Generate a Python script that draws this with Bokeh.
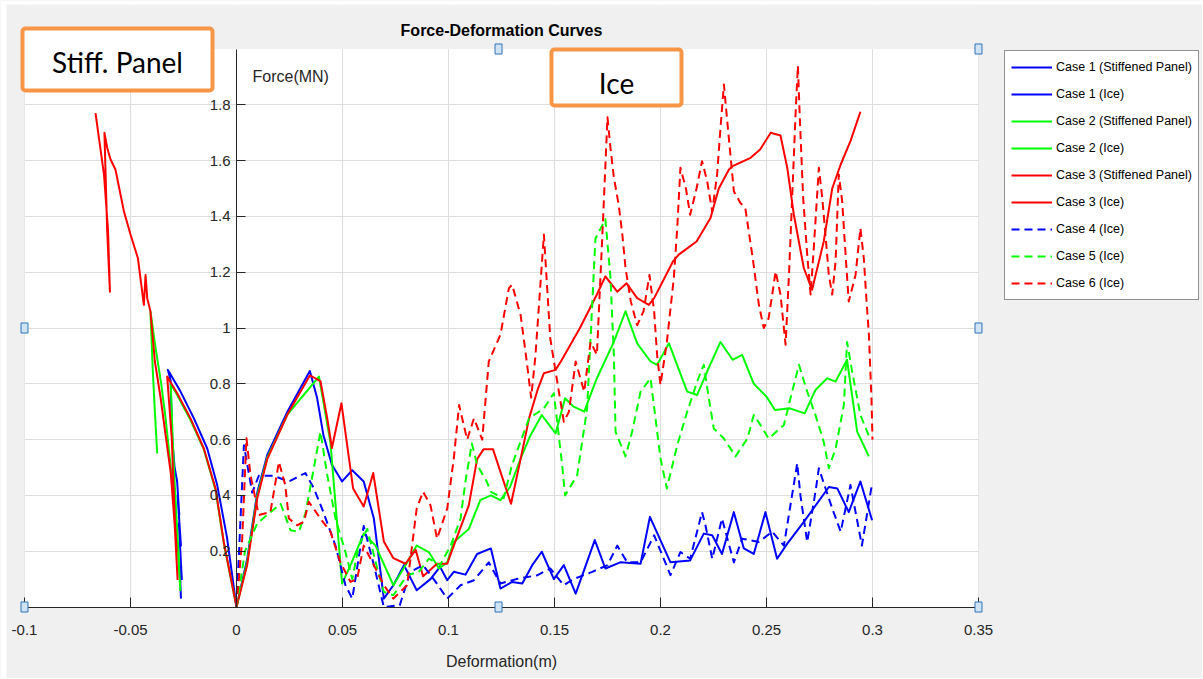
from bokeh.plotting import figure
from bokeh.models import Range1d, FixedTicker, Legend, LegendItem, Label, BoxAnnotation
from bokeh.embed import file_html
from bokeh.resources import INLINE

FONT = "Liberation Sans"
AXC = "#262626"
BG = "#f0f0f0"

x_ticks = [-0.1, -0.05, 0, 0.05, 0.1, 0.15, 0.2, 0.25, 0.3, 0.35]
x_tick_labels = ["-0.1", "-0.05", "0", "0.05", "0.1", "0.15", "0.2", "0.25", "0.3", "0.35"]
y_ticks = [0.2, 0.4, 0.6, 0.8, 1, 1.2, 1.4, 1.6, 1.8]
y_tick_labels = ["0.2", "0.4", "0.6", "0.8", "1", "1.2", "1.4", "1.6", "1.8"]

series_names = ["Case 1 (Stiffened Panel)", "Case 1 (Ice)", "Case 2 (Stiffened Panel)",
                "Case 2 (Ice)", "Case 3 (Stiffened Panel)", "Case 3 (Ice)",
                "Case 4 (Ice)", "Case 5 (Ice)", "Case 6 (Ice)"]
series_colors = ["#0000ff", "#0000ff", "#00ff00", "#00ff00", "#ff0000", "#ff0000",
                 "#0000ff", "#00ff00", "#ff0000"]
series_dashed = [False, False, False, False, False, False, True, True, True]

# Case 1 (Stiffened Panel)
c1_sp_d = [0, -0.0045, -0.0091, -0.0138, -0.0201, -0.0264, -0.0324, -0.0311, -0.0303, -0.0292,
           -0.0280, -0.0270, -0.0278, -0.0262, -0.0272, -0.0258, -0.0268, -0.0262]
c1_sp_f = [0, 0.25, 0.437, 0.568, 0.676, 0.772, 0.85, 0.814, 0.60, 0.50,
           0.45, 0.33, 0.40, 0.22, 0.30, 0.10, 0.15, 0.03]

# Case 2 (Stiffened Panel)
c2_sp_d = [0, -0.006, -0.0099, -0.0154, -0.0217, -0.028, -0.031, -0.0302, -0.0292, -0.0283,
           -0.0270, -0.0278, -0.0265, -0.0285, -0.031, -0.0335, -0.0355, -0.038, -0.0406,
           -0.0395, -0.0385, -0.0374]
c2_sp_f = [0, 0.23, 0.42, 0.565, 0.67, 0.76, 0.80, 0.62, 0.45, 0.32,
           0.15, 0.24, 0.06, 0.30, 0.50, 0.68, 0.80, 0.92, 1.06,
           0.85, 0.70, 0.55]

# Case 3 (Stiffened Panel)
c3_sp_d = [0, -0.006, -0.0099, -0.0154, -0.0217, -0.028, -0.0327, -0.0305, -0.0298, -0.0290,
           -0.0282, -0.0288, -0.0278, -0.0292, -0.0310, -0.0335, -0.0358, -0.0385, -0.0406,
           -0.0421, -0.0429, -0.0437, -0.0465, -0.0500, -0.0531, -0.0571, -0.0594, -0.0610,
           -0.0623, -0.0610, -0.0597, -0.0606, -0.0625, -0.0665]
c3_sp_f = [0, 0.233, 0.425, 0.568, 0.676, 0.766, 0.826, 0.60, 0.45, 0.30,
           0.20, 0.25, 0.10, 0.30, 0.48, 0.62, 0.75, 0.88, 1.06,
           1.107, 1.19, 1.083, 1.25, 1.335, 1.418, 1.568, 1.604, 1.646,
           1.70, 1.35, 1.13, 1.35, 1.55, 1.77]

# Case 1 (Ice)
c1_ice_d = [0, 0.005, 0.0098, 0.0145, 0.024, 0.0346, 0.038, 0.041, 0.045, 0.0498, 0.0546, 0.060,
            0.0648, 0.0695, 0.074, 0.079, 0.085, 0.0915, 0.096, 0.0994, 0.1025, 0.108, 0.1135,
            0.120, 0.1245, 0.130, 0.1348, 0.1395, 0.144, 0.1497, 0.1544, 0.160, 0.169, 0.174,
            0.181, 0.1906, 0.195, 0.2047, 0.214, 0.2204, 0.2244, 0.229, 0.2346, 0.2393, 0.244,
            0.2495, 0.255, 0.2598, 0.2676, 0.2794, 0.2834, 0.2888, 0.2943, 0.2998]
c1_ice_f = [0, 0.17, 0.41, 0.545, 0.70, 0.846, 0.75, 0.616, 0.51, 0.45, 0.49, 0.45,
            0.317, 0.03, 0.078, 0.15, 0.06, 0.10, 0.144, 0.096, 0.126, 0.116, 0.19,
            0.21, 0.066, 0.09, 0.084, 0.15, 0.198, 0.10, 0.15, 0.048, 0.24, 0.138,
            0.16, 0.155, 0.323, 0.16, 0.167, 0.263, 0.257, 0.19, 0.34, 0.21, 0.19,
            0.34, 0.173, 0.227, 0.305, 0.43, 0.425, 0.34, 0.45, 0.311]

# Case 2 (Ice)
c2_ice_d = [0, 0.005, 0.0098, 0.0145, 0.024, 0.0389, 0.0443, 0.0498, 0.0538, 0.060, 0.0656, 0.074,
            0.0797, 0.085, 0.0907, 0.0955, 0.0994, 0.1025, 0.1096, 0.115, 0.120, 0.1245, 0.129,
            0.134, 0.1387, 0.144, 0.1505, 0.155, 0.159, 0.164, 0.170, 0.178, 0.1835, 0.189,
            0.1953, 0.1984, 0.204, 0.2126, 0.2173, 0.222, 0.2283, 0.234, 0.2385, 0.244, 0.250,
            0.254, 0.261, 0.268, 0.2731, 0.2786, 0.2826, 0.288, 0.2928, 0.2983]
c2_ice_f = [0, 0.16, 0.40, 0.535, 0.69, 0.826, 0.59, 0.084, 0.15, 0.263, 0.22, 0.078,
            0.15, 0.22, 0.197, 0.138, 0.16, 0.233, 0.28, 0.383, 0.40, 0.383, 0.43,
            0.532, 0.616, 0.688, 0.622, 0.748, 0.718, 0.70, 0.82, 0.95, 1.06, 0.945,
            0.88, 0.868, 0.945, 0.772, 0.76, 0.844, 0.95, 0.886, 0.904, 0.80, 0.754,
            0.706, 0.712, 0.694, 0.778, 0.82, 0.808, 0.886, 0.628, 0.54]

# Case 3 (Ice)
c3_ice_d = [0, 0.005, 0.0098, 0.0145, 0.024, 0.0346, 0.0396, 0.0428, 0.045, 0.0495, 0.055, 0.060,
            0.0645, 0.0695, 0.074, 0.0797, 0.0845, 0.088, 0.0946, 0.0994, 0.1025, 0.1096,
            0.1135, 0.1165, 0.121, 0.1295, 0.134, 0.138, 0.142, 0.145, 0.1505, 0.153, 0.1575,
            0.162, 0.166, 0.170, 0.174, 0.1796, 0.184, 0.189, 0.1945, 0.197, 0.206, 0.2086,
            0.217, 0.2236, 0.2275, 0.2323, 0.234, 0.2425, 0.247, 0.252, 0.2566, 0.2598, 0.2629,
            0.2676, 0.2715, 0.277, 0.281, 0.285, 0.2896, 0.2943]
c3_ice_f = [0, 0.15, 0.39, 0.53, 0.69, 0.83, 0.81, 0.676, 0.57, 0.73, 0.425, 0.36,
            0.48, 0.235, 0.175, 0.155, 0.205, 0.11, 0.155, 0.155, 0.22, 0.365,
            0.53, 0.565, 0.565, 0.37, 0.53, 0.676, 0.778, 0.838, 0.85, 0.88, 0.94,
            1.0, 1.06, 1.12, 1.185, 1.13, 1.16, 1.107, 1.083, 1.107, 1.24, 1.263,
            1.31, 1.394, 1.50, 1.568, 1.58, 1.61, 1.64, 1.70, 1.69, 1.574, 1.406,
            1.215, 1.137, 1.31, 1.50, 1.586, 1.67, 1.775]

# Case 4 (Ice)
c4_d = [0, 0.0035, 0.0074, 0.0105, 0.0176, 0.0247, 0.0325, 0.0365, 0.041, 0.0467, 0.0514, 0.0546,
        0.060, 0.0648, 0.0695, 0.077, 0.082, 0.088, 0.093, 0.0994, 0.1057, 0.112, 0.119, 0.1245,
        0.132, 0.142, 0.148, 0.1544, 0.159, 0.1678, 0.175, 0.1796, 0.1843, 0.1906, 0.197,
        0.2047, 0.2094, 0.214, 0.2196, 0.2212, 0.2244, 0.229, 0.2346, 0.2385, 0.2464, 0.2527,
        0.2582, 0.2645, 0.266, 0.2692, 0.2731, 0.2747, 0.281, 0.285, 0.2896, 0.295, 0.2998]
c4_f = [0, 0.58, 0.41, 0.47, 0.47, 0.45, 0.48, 0.425, 0.34, 0.22, 0.078, 0.03,
        0.29, 0.15, 0.0, 0.006, 0.126, 0.15, 0.10, 0.03, 0.078, 0.096, 0.16, 0.084,
        0.10, 0.114, 0.138, 0.078, 0.10, 0.126, 0.15, 0.22, 0.16, 0.16, 0.257,
        0.114, 0.197, 0.173, 0.34, 0.293, 0.173, 0.317, 0.16, 0.245, 0.233, 0.27,
        0.22, 0.515, 0.40, 0.233, 0.413, 0.497, 0.353, 0.27, 0.437, 0.22, 0.443]

# Case 5 (Ice)
c5_d = [0, 0.004, 0.0098, 0.016, 0.0208, 0.0255, 0.0294, 0.0325, 0.035, 0.0396, 0.0428, 0.0467,
        0.0514, 0.0546, 0.0577, 0.0617, 0.0664, 0.0695, 0.074, 0.0805, 0.086, 0.0907, 0.096,
        0.101, 0.1057, 0.108, 0.111, 0.1135, 0.118, 0.12, 0.126, 0.130, 0.138, 0.145, 0.1497,
        0.1536, 0.155, 0.1607, 0.1654, 0.1693, 0.174, 0.1764, 0.178, 0.1788, 0.1835, 0.1866,
        0.1906, 0.1953, 0.2, 0.203, 0.2079, 0.2126, 0.2173, 0.2204, 0.2228, 0.2251, 0.2299,
        0.2354, 0.241, 0.244, 0.2472, 0.251, 0.2582, 0.2613, 0.2653, 0.2692, 0.2731, 0.277,
        0.2794, 0.2826, 0.2865, 0.288, 0.2904, 0.2943, 0.299]
c5_f = [0, 0.2, 0.30, 0.34, 0.37, 0.275, 0.27, 0.335, 0.437, 0.628, 0.473, 0.317,
        0.197, 0.10, 0.22, 0.28, 0.138, 0.054, 0.042, 0.114, 0.126, 0.173, 0.15,
        0.22, 0.317, 0.45, 0.586, 0.51, 0.45, 0.413, 0.39, 0.51, 0.676, 0.712, 0.766,
        0.51, 0.40, 0.473, 0.712, 1.32, 1.39, 1.18, 0.904, 0.628, 0.54, 0.628,
        0.772, 0.82, 0.532, 0.425, 0.58, 0.70, 0.808, 0.868, 0.748, 0.64, 0.604,
        0.54, 0.604, 0.688, 0.652, 0.604, 0.652, 0.748, 0.868, 0.772, 0.688, 0.592,
        0.497, 0.568, 0.724, 0.95, 0.844, 0.688, 0.60]

# Case 6 (Ice)
c6_d = [0, 0.0027, 0.0047, 0.0066, 0.0105, 0.016, 0.020, 0.023, 0.0247, 0.0286, 0.0318, 0.0341,
        0.0396, 0.0443, 0.049, 0.0538, 0.0569, 0.060, 0.0648, 0.0695, 0.074, 0.0805, 0.085,
        0.088, 0.0915, 0.0946, 0.0994, 0.1025, 0.105, 0.1088, 0.112, 0.1159, 0.119, 0.1245,
        0.1285, 0.130, 0.134, 0.1363, 0.139, 0.141, 0.145, 0.148, 0.1505, 0.1544, 0.1568,
        0.160, 0.164, 0.167, 0.170, 0.1725, 0.175, 0.1764, 0.178, 0.1803, 0.182, 0.1835,
        0.186, 0.189, 0.192, 0.1948, 0.197, 0.1984, 0.200, 0.203, 0.2063, 0.2079, 0.2094,
        0.212, 0.214, 0.217, 0.2196, 0.222, 0.2244, 0.2267, 0.2283, 0.2299, 0.2315, 0.2346,
        0.2377, 0.240, 0.2437, 0.2464, 0.2487, 0.251, 0.2527, 0.2543, 0.2566, 0.259, 0.2606,
        0.2621, 0.2637, 0.2648, 0.2657, 0.2673, 0.2692, 0.2708, 0.2723, 0.2747, 0.2763,
        0.2778, 0.2794, 0.281, 0.2826, 0.2841, 0.2857, 0.2873, 0.2888, 0.292, 0.2943, 0.2959,
        0.2972, 0.2983, 0.2995, 0.300]
c6_f = [0, 0.245, 0.605, 0.473, 0.33, 0.34, 0.52, 0.437, 0.317, 0.293, 0.305, 0.377,
        0.317, 0.27, 0.16, 0.09, 0.10, 0.22, 0.15, 0.078, 0.03, 0.078, 0.353,
        0.413, 0.365, 0.245, 0.353, 0.532, 0.724, 0.60, 0.676, 0.60, 0.88, 0.976,
        1.143, 1.155, 1.047, 0.916, 0.75, 0.90, 1.335, 0.963, 0.844, 0.664, 0.70,
        0.88, 0.772, 0.95, 0.904, 1.32, 1.755, 1.645, 1.54, 1.44, 1.335, 1.215,
        1.095, 1.01, 1.06, 1.19, 1.06, 0.904, 0.796, 0.95, 1.18, 1.36, 1.574,
        1.50, 1.406, 1.50, 1.598, 1.526, 1.418, 1.55, 1.717, 1.873, 1.74, 1.49,
        1.448, 1.43, 1.24, 1.083, 1.0, 1.035, 1.12, 1.203, 1.12, 0.94, 1.19,
        1.466, 1.766, 1.94, 1.755, 1.466, 1.263, 1.12, 1.287, 1.574, 1.466,
        1.335, 1.19, 1.12, 1.24, 1.55, 1.454, 1.263, 1.095, 1.19, 1.358, 1.25,
        1.095, 0.976, 0.75, 0.60]

series_x = [c1_sp_d, c1_ice_d, c2_sp_d, c2_ice_d, c3_sp_d, c3_ice_d, c4_d, c5_d, c6_d]
series_y = [c1_sp_f, c1_ice_f, c2_sp_f, c2_ice_f, c3_sp_f, c3_ice_f, c4_f, c5_f, c6_f]

# The frame fills the whole canvas; the axes sit at x=0 / y=0 inside it.
p = figure(width=1202, height=678, x_range=Range1d(-0.11132, 0.45566),
           y_range=Range1d(-0.25627, 2.17384),
           output_backend="svg", toolbar_location=None,
           min_border_left=0, min_border_right=0, min_border_top=0, min_border_bottom=0,
           background_fill_color=BG, border_fill_color=BG, outline_line_color=None)

# white plot area (below the grid)
p.add_layout(BoxAnnotation(left=-0.1, right=0.35, bottom=0, top=2, fill_color="white",
                           fill_alpha=1, line_color=None, level="image"))
# grey bands that hide grid lines outside the plot area
for kw in (dict(bottom=2), dict(top=0), dict(right=-0.1), dict(left=0.35)):
    p.add_layout(BoxAnnotation(fill_color=BG, fill_alpha=1, line_color=None,
                               level="underlay", **kw))
# white page edge seen on the reference
p.add_layout(BoxAnnotation(right=-0.1085, fill_color="white", fill_alpha=1, line_color=None,
                           level="underlay"))
p.add_layout(BoxAnnotation(bottom=2.1595, fill_color="white", fill_alpha=1, line_color=None,
                           level="underlay"))

p.xaxis.ticker = FixedTicker(ticks=x_ticks)
p.yaxis.ticker = FixedTicker(ticks=y_ticks)
xo = {}
for t, l in zip(x_ticks, x_tick_labels):
    xo[t] = l
    xo[str(t)] = l
yo = {}
for t, l in zip(y_ticks, y_tick_labels):
    yo[t] = l
    yo[str(t)] = l
p.xaxis.major_label_overrides = xo
p.yaxis.major_label_overrides = yo

p.xaxis.fixed_location = 0
p.yaxis.fixed_location = 0
p.xaxis.bounds = (-0.1, 0.35)
p.yaxis.bounds = (0, 2)
for ax in (p.xaxis[0], p.yaxis[0]):
    ax.axis_line_color = AXC
    ax.major_tick_line_color = AXC
    ax.major_tick_out = 0
    ax.minor_tick_line_color = None
    ax.major_label_text_font = FONT
    ax.major_label_text_font_size = "15px"
    ax.major_label_text_color = AXC
p.xaxis.major_tick_in = 10
p.yaxis.major_tick_in = 9
p.xaxis.major_label_standoff = 18
p.yaxis.major_label_standoff = 6

p.grid.grid_line_color = "#dedede"
p.grid.grid_line_width = 1

items = []
for xs, ys, name, col, dashed in zip(series_x, series_y, series_names, series_colors, series_dashed):
    r = p.line(xs, ys, line_color=col, line_width=2, line_join="round",
               line_dash="8 5" if dashed else "solid")
    items.append(LegendItem(label=name, renderers=[r]))

legend = Legend(items=items, location=(1004, 378), margin=0, padding=6, spacing=7,
                label_height=20, glyph_height=20, glyph_width=41, label_standoff=4,
                border_line_color=AXC, border_line_width=1, background_fill_color="white",
                background_fill_alpha=1, label_text_font=FONT, label_text_font_size="12.5px",
                label_text_color="#000000")
p.add_layout(legend)

p.add_layout(Label(x=0.125, y=2.066, text="Force-Deformation Curves", text_font=FONT,
                   text_font_size="16px", text_font_style="bold", text_color="#000000",
                   text_align="center", text_baseline="middle"))
p.add_layout(Label(x=0.125, y=-0.195, text="Deformation(m)", text_font=FONT,
                   text_font_size="16px", text_color=AXC, text_align="center",
                   text_baseline="middle"))
p.add_layout(Label(x=0, y=1.9, x_offset=16, text="Force(MN)", text_font=FONT,
                   text_font_size="16px", text_color=AXC, text_baseline="middle"))

# annotation boxes
p.add_layout(BoxAnnotation(left=-0.10094, right=-0.01132, bottom=1.8513, top=2.0735,
                           fill_color="white", fill_alpha=1, line_color="#f79646",
                           line_width=4, line_alpha=1, border_radius=3))
p.add_layout(Label(x=-0.05613, y=1.9552, text="Stiff. Panel", text_font="Lato",
                   text_font_size="28px", text_color="#000000", text_align="center",
                   text_baseline="middle"))
p.add_layout(BoxAnnotation(left=0.14858, right=0.20991, bottom=1.7975, top=1.9982,
                           fill_color="white", fill_alpha=1, line_color="#f79646",
                           line_width=4, line_alpha=1, border_radius=3))
p.add_layout(Label(x=0.17925, y=1.8799, text="Ice", text_font="Lato",
                   text_font_size="28px", text_color="#000000", text_align="center",
                   text_baseline="middle"))

# selection handles
for hx, hy in [(-0.1, 0), (-0.1, 1), (0.1236, 2), (0.35, 2), (0.35, 1), (0.35, 0), (0.1236, 0)]:
    p.add_layout(BoxAnnotation(left=hx - 0.00165, right=hx + 0.00165, bottom=hy - 0.018,
                               top=hy + 0.018, fill_color="#cfe3f5", fill_alpha=1,
                               line_color="#2f75b5", line_width=1, line_alpha=1))

open("out.html", "w").write(file_html(p, INLINE))
